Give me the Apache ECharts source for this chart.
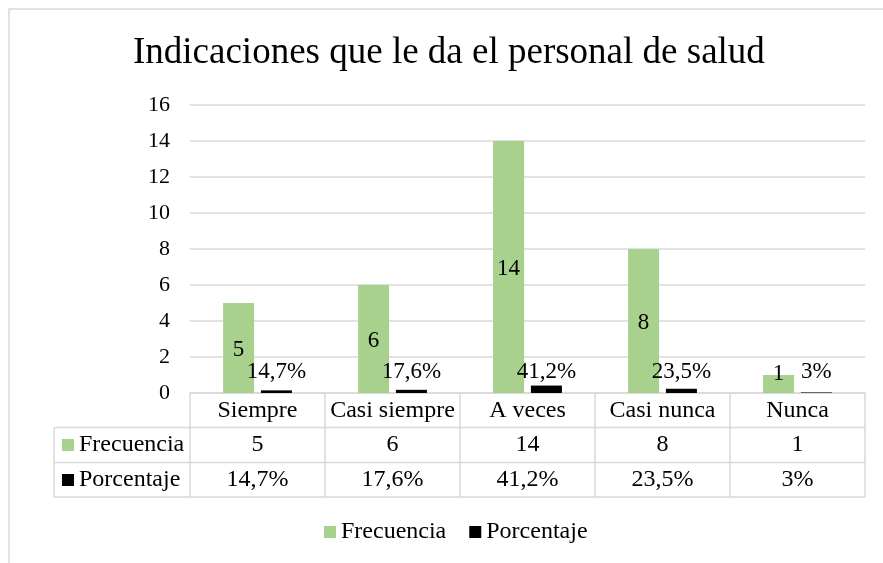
<!DOCTYPE html>
<html>
<head>
<meta charset="utf-8">
<script src="https://cdn.jsdelivr.net/npm/echarts@6/dist/echarts.min.js"></script>
<style>
  html, body { margin: 0; padding: 0; background: #fff; }
  #chart { width: 883px; height: 563px; }
</style>
</head>
<body>
<div id="chart"></div>
<script>
// datos
const categorias = ['Siempre', 'Casi siempre', 'A veces', 'Casi nunca', 'Nunca']
const frecuencia = [5, 6, 14, 8, 1]
const porcentaje = [0.147, 0.176, 0.412, 0.235, 0.03]
const porcentajeTexto = ['14,7%', '17,6%', '41,2%', '23,5%', '3%']
const series = ['Frecuencia', 'Porcentaje']

const fuente = 'Liberation Serif, Times New Roman, serif'
const gris = '#d9d9d9'
const verde = '#a9d18e'

// grid (pixeles) y filas de la tabla
const gLeft = 190, gRight = 865, gTop = 105, gBottom = 393
const filas = [34.5, 35, 34.5]
const tablaLeft = 54

const y1 = gBottom + filas[0]
const y2 = y1 + filas[1]
const y3 = y2 + filas[2]

const myChart = echarts.init(document.getElementById('chart'))

const options = {
  animation: false,
  color: [verde, '#000000'],
  title: {
    text: 'Indicaciones que le da el personal de salud',
    left: 133,
    top: 35,
    padding: 0,
    textStyle: { fontFamily: fuente, fontSize: 37, fontWeight: 'normal', color: '#000' }
  },
  legend: [{
    data: series,
    left: 324,
    top: 520,
    padding: 0,
    icon: 'rect',
    itemWidth: 12,
    itemHeight: 12,
    itemGap: 23,
    textStyle: { fontFamily: fuente, fontSize: 24, lineHeight: 24, color: '#000' }
  }, {
    // claves de la tabla
    data: series,
    orient: 'vertical',
    left: 62,
    top: y1 + filas[1] / 2 - 12,
    padding: 0,
    icon: 'rect',
    itemWidth: 12,
    itemHeight: 12,
    itemGap: 11,
    textStyle: { fontFamily: fuente, fontSize: 24, lineHeight: 24, color: '#000' }
  }],
  grid: {
    left: gLeft,
    right: 883 - gRight,
    top: gTop,
    bottom: 563 - gBottom
  },
  xAxis: {
    type: 'category',
    data: categorias,
    axisLine: { show: true, lineStyle: { color: gris, width: 1.5 } },
    axisTick: { show: true, length: y3 - gBottom, lineStyle: { color: gris, width: 1.5 } },
    axisLabel: {
      margin: 0,
      interval: 0,
      color: '#000',
      fontFamily: fuente,
      formatter: (value, idx) => '{a|' + value + '}\n{b|' + frecuencia[idx] + '}\n{c|' + porcentajeTexto[idx] + '}',
      rich: {
        a: { fontFamily: fuente, fontSize: 24, lineHeight: filas[0], color: '#000' },
        b: { fontFamily: fuente, fontSize: 24, lineHeight: filas[1], color: '#000' },
        c: { fontFamily: fuente, fontSize: 24, lineHeight: filas[2], color: '#000' }
      }
    }
  },
  yAxis: {
    type: 'value',
    min: 0,
    max: 16,
    interval: 2,
    axisLine: { show: false },
    axisTick: { show: false },
    axisLabel: { margin: 20, color: '#000', fontFamily: fuente, fontSize: 22 },
    splitLine: { lineStyle: { color: gris, width: 1.5 } }
  },
  series: [{
    name: series[0],
    type: 'bar',
    barWidth: 31,
    barGap: '22%',
    data: frecuencia.map(v => v < 2
      ? { value: v, label: { position: 'insideBottom', distance: 10 } }
      : v),
    label: {
      show: true,
      position: 'inside',
      offset: [0, 2],
      color: '#000',
      fontFamily: fuente,
      fontSize: 23
    }
  }, {
    name: series[1],
    type: 'bar',
    barWidth: 31,
    data: porcentaje,
    label: {
      show: true,
      position: 'insideBottom',
      distance: 10,
      color: '#000',
      fontFamily: fuente,
      fontSize: 23,
      formatter: p => porcentajeTexto[p.dataIndex]
    }
  }],
  graphic: [
    // marco
    { type: 'rect', shape: { x: 9, y: 9, width: 900, height: 600 }, style: { fill: 'none', stroke: gris, lineWidth: 1.5 }, silent: true },
    // lineas de la tabla
    { type: 'line', shape: { x1: tablaLeft, y1: y1, x2: gRight, y2: y1 }, style: { stroke: gris, lineWidth: 1.5 }, silent: true },
    { type: 'line', shape: { x1: tablaLeft, y1: y2, x2: gRight, y2: y2 }, style: { stroke: gris, lineWidth: 1.5 }, silent: true },
    { type: 'line', shape: { x1: tablaLeft, y1: y3, x2: gRight, y2: y3 }, style: { stroke: gris, lineWidth: 1.5 }, silent: true },
    { type: 'line', shape: { x1: tablaLeft, y1: y1, x2: tablaLeft, y2: y3 }, style: { stroke: gris, lineWidth: 1.5 }, silent: true }
  ]
}

myChart.setOption(options)
</script>
</body>
</html>
